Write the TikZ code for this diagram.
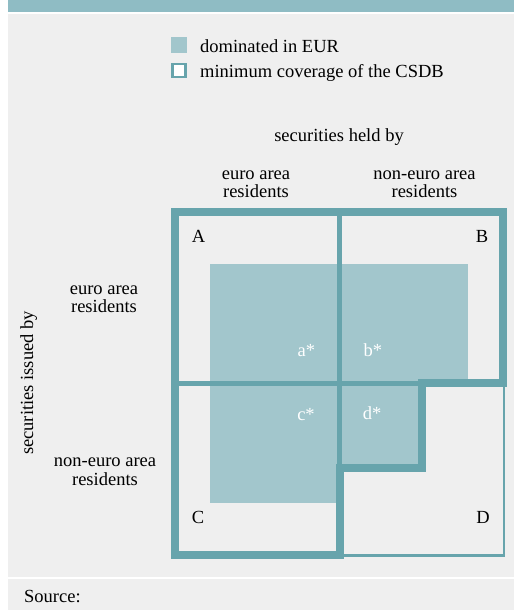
\documentclass[tikz,border=0pt]{standalone}
\usepackage{fontspec}
\setmainfont{Liberation Serif}
\definecolor{bandcol}{HTML}{8FBCC4}
\definecolor{csdbcol}{HTML}{67A4AC}
\definecolor{eurcol}{HTML}{A2C6CC}
\definecolor{panelcol}{HTML}{EFEFEF}
\begin{document}
\begin{tikzpicture}[x=1pt,y=-1pt,
    every node/.style={inner sep=0pt, font=\fontsize{18.5}{18.3}\selectfont},
    lbl/.style={anchor=base, align=center},
    star/.style={anchor=base, text=white},
    thick frame/.style={draw=csdbcol, line width=8pt, miter limit=10},
    mid line/.style={draw=csdbcol, line width=5pt},
    thin frame/.style={draw=csdbcol, line width=2.5pt}]
    \useasboundingbox (0,0) rectangle (514,610);
    \fill [white] (0,0) rectangle (514,610);
    \fill [panelcol] (8,14) rectangle (514,577);
    \fill [panelcol] (8,579) rectangle (514,610);
    \fill [bandcol] (8,0) rectangle (514,12.5);
    \node [fill=eurcol, minimum size=16pt] (keyeur) at (179,45) {};
    \node [draw=csdbcol, fill=white, line width=2.5pt, minimum size=13pt] (keycsdb) at (179,70.5) {};
    \node [anchor=base west] (txteur) at (200,52.3) {dominated in EUR};
    \node [anchor=base west] (txtcsdb) at (200,77.3) {minimum coverage of the CSDB};
    \node [lbl] (heldby) at (339,141) {securities held by};
    \node [lbl] (heldea) at (256,197.3) {euro area\\residents};
    \node [lbl] (heldnea) at (424.5,197.3) {non-euro area\\residents};
    \node [lbl, rotate=90] (issuedby) at (33,383) {securities issued by};
    \node [lbl] (issuedea) at (104,312.3) {euro area\\residents};
    \node [lbl] (issuednea) at (105,485) {non-euro area\\residents};
    \fill [eurcol] (210,264) rectangle (468,383);
    \fill [eurcol] (210,383) rectangle (339,503);
    \fill [eurcol] (339,383) rectangle (421.5,468);
    \draw [mid line] (339,211.5) -- (339,468);
    \draw [mid line] (175,383.3) -- (421.5,383.3);
    \draw [thin frame] (421.5,383) -- (504,383) -- (504,555.5) -- (339.5,555.5);
    \draw [thick frame] (175,211.5) -- (503,211.5) -- (503,383) -- (421.5,383)
        -- (421.5,468) -- (339.5,468) -- (339.5,554.5) -- (175,554.5) -- cycle;
    \node [anchor=base] (cellA) at (198.5,242.7) {A};
    \node [anchor=base] (cellB) at (482,242.7) {B};
    \node [anchor=base] (cellC) at (198,523) {C};
    \node [anchor=base] (cellD) at (483,523) {D};
    \node [star] (stara) at (306.3,356) {a*};
    \node [star] (starb) at (372.8,356) {b*};
    \node [star] (starc) at (306,420) {c*};
    \node [star] (stard) at (372,419) {d*};
    \node [anchor=base west] (source) at (24,602.7) {Source:};
\end{tikzpicture}
\end{document}
